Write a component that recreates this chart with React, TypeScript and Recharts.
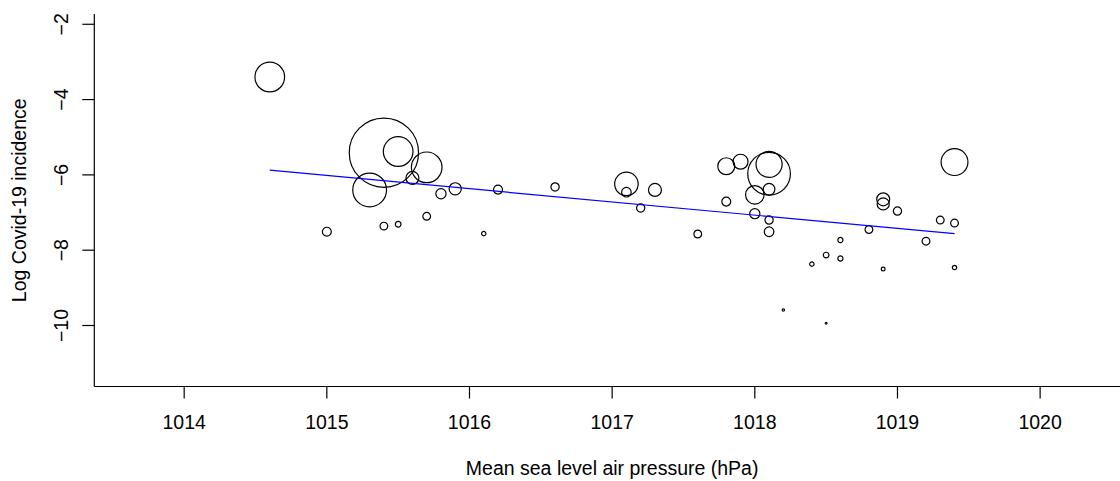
import React from "react";
import { ScatterChart, Scatter, XAxis, YAxis, ZAxis, Label } from "recharts";

// Mean sea level air pressure (hPa)
const pressure: number[] = [
  1014.6, 1015.4, 1015.5, 1015.7, 1015.3, 1015.6, 1015.8, 1015.9, 1016.2, 1015.7,
  1015.4, 1015.5, 1015.0, 1016.1, 1016.6, 1017.1, 1017.1, 1017.3, 1017.2, 1017.6,
  1017.8, 1017.9, 1018.1, 1018.1, 1018.0, 1018.1, 1017.8, 1018.0, 1018.1, 1018.1,
  1018.2, 1018.4, 1018.5, 1018.6, 1018.6, 1018.5, 1018.9, 1018.9, 1019.0, 1018.8,
  1018.9, 1019.2, 1019.3, 1019.4, 1019.4, 1019.4,
];
// Log Covid-19 incidence
const logIncidence: number[] = [
  -3.4, -5.41, -5.38, -5.8, -6.4, -6.08, -6.5, -6.37, -6.39, -7.1,
  -7.36, -7.31, -7.51, -7.56, -6.32, -6.24, -6.46, -6.4, -6.88, -7.57,
  -5.77, -5.65, -5.97, -5.72, -6.53, -6.38, -6.71, -7.03, -7.2, -7.51,
  -9.59, -8.37, -8.13, -7.73, -8.22, -9.94, -6.65, -6.77, -6.96, -7.45,
  -8.5, -7.76, -7.2, -7.28, -8.46, -5.66,
];
// bubble weight (proportional to symbol area)
const weight: number[] = [
  220, 1200, 220, 235, 285, 42, 26, 37, 20, 15,
  15, 8, 20, 4.8, 17, 138, 23, 42, 17, 15,
  72, 56, 455, 170, 86, 34, 20, 26, 17, 23,
  1.4, 4.8, 8, 6.6, 6.6, 0.8, 42, 37, 17, 15,
  3.6, 15, 15, 15, 4.8, 180,
];
// fitted regression line end points
const fitX: number[] = [1014.6, 1019.4];
const fitY: number[] = [-5.876, -7.56];

const xTicks: number[] = [1014, 1015, 1016, 1017, 1018, 1019, 1020];
const yTicks: number[] = [-10, -8, -6, -4, -2];

const points = pressure.map((p, i) => ({ x: p, y: logIncidence[i], z: weight[i] }));
const fitLine = fitX.map((x, i) => ({ x, y: fitY[i] }));

const FONT = '"Liberation Sans", Arial, Helvetica, sans-serif';
const FS = 19.5;

const XTick = (props: any) => {
  const { x, y, payload } = props;
  return (
    <text x={x} y={y + 28.8} textAnchor="middle" fontFamily={FONT} fontSize={FS} fill="#000">
      {String(payload.value)}
    </text>
  );
};

const YTick = (props: any) => {
  const { x, y, payload } = props;
  const bx = x - 12.3;
  const v = payload.value;
  const txt = v < 0 ? "\u2212" + String(Math.abs(v)) : String(v);
  return (
    <text
      x={bx}
      y={y}
      transform={`rotate(-90, ${bx}, ${y})`}
      textAnchor="middle"
      fontFamily={FONT}
      fontSize={FS}
      fill="#000"
    >
      {txt}
    </text>
  );
};

const Empty = () => <g />;

export default function App() {
  return (
    <div style={{ position: "absolute", left: 0, top: 0, width: 1120, height: 481, overflow: "hidden", background: "#fff" }}>
      <ScatterChart width={1130} height={481} margin={{ top: 14, right: 0, left: 0, bottom: 0 }}>
        <XAxis
          xAxisId="top"
          orientation="top"
          dataKey="x"
          type="number"
          domain={[1013.37, 1020.63]}
          allowDataOverflow
          height={0}
          tick={false}
          tickLine={false}
          axisLine={{ stroke: "#000", strokeWidth: 1.2 }}
        />
        <XAxis
          dataKey="x"
          type="number"
          domain={[1013.37, 1020.63]}
          allowDataOverflow
          ticks={xTicks}
          height={94.5}
          tickSize={12}
          tickLine={{ stroke: "#000", strokeWidth: 1.2 }}
          axisLine={{ stroke: "#000", strokeWidth: 1.2 }}
          tick={<XTick />}
          interval={0}
        >
          <Label
            content={(p: any) => {
              const vb = p.viewBox;
              return (
                <text x={vb.x + vb.width / 2} y={474.5} textAnchor="middle" fontFamily={FONT} fontSize={FS} fill="#000">
                  Mean sea level air pressure (hPa)
                </text>
              );
            }}
          />
        </XAxis>
        <YAxis
          dataKey="y"
          type="number"
          domain={[-11.62, -1.727]}
          allowDataOverflow
          ticks={yTicks}
          width={94.3}
          tickSize={12}
          tickLine={{ stroke: "#000", strokeWidth: 1.2 }}
          axisLine={{ stroke: "#000", strokeWidth: 1.2 }}
          tick={<YTick />}
          interval={0}
        >
          <Label
            content={() => {
              const cy = 14 + (386.5 - 14) / 2;
              return (
                <text
                  x={26}
                  y={cy}
                  transform={`rotate(-90, 26, ${cy})`}
                  textAnchor="middle"
                  fontFamily={FONT}
                  fontSize={FS}
                  fill="#000"
                >
                  Log Covid-19 incidence
                </text>
              );
            }}
          />
        </YAxis>
        <ZAxis dataKey="z" type="number" domain={[0, 1200]} range={[0, Math.PI * 1200]} />
        <Scatter
          data={points}
          shape="circle"
          fill="none"
          stroke="#000"
          strokeWidth={1.2}
          isAnimationActive={false}
        />
        <Scatter
          data={fitLine}
          line={{ stroke: "#0000FF", strokeWidth: 1.2 }}
          shape={<Empty />}
          isAnimationActive={false}
        />
      </ScatterChart>
    </div>
  );
}
